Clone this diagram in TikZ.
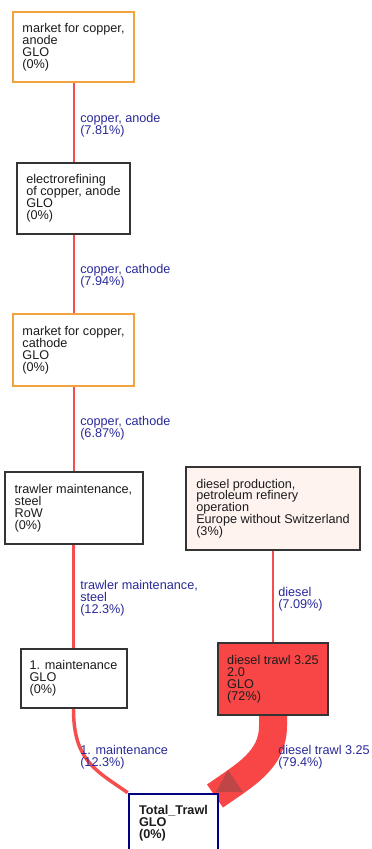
\documentclass[tikz,border=0pt]{standalone}
\usepackage{fontspec}
\setmainfont{Liberation Sans}

\definecolor{boxgray}{RGB}{52,52,52}
\definecolor{marketorange}{RGB}{242,163,62}
\definecolor{flowred}{RGB}{245,78,78}
\definecolor{hotred}{RGB}{248,70,70}
\definecolor{palepink}{RGB}{255,243,240}
\definecolor{labelblue}{RGB}{42,42,155}
\definecolor{rootnavy}{RGB}{0,0,128}
\definecolor{textdark}{RGB}{28,28,28}
\definecolor{tipred}{RGB}{190,70,70}

\pgfdeclarelayer{flows}
\pgfsetlayers{flows,main}

\tikzset{
  proc/.style={draw=boxgray, line width=1.5pt, fill=white, align=left,
    font=\fontsize{9.5}{8.9}\selectfont, text=textdark, inner sep=0pt},
  market/.style={proc, draw=marketorange},
  flow/.style={draw=flowred, line width=1.5pt},
  flowlabel/.style={text=labelblue, align=left, anchor=base west,
    font=\fontsize{9.5}{8.9}\selectfont, inner sep=0pt},
}

\begin{document}
\begin{tikzpicture}[x=0.75pt, y=-0.75pt]
\useasboundingbox (0,0) rectangle (371,849);

% process boxes
\node[market, minimum width=90.75pt, minimum height=52.5pt] (anodemkt) at (73.5,47)
  {market for copper,\\anode\\GLO\\(0\%)};
\node[proc, minimum width=84.75pt, minimum height=53.25pt] (refining) at (73.5,198.5)
  {electrorefining\\of copper, anode\\GLO\\(0\%)};
\node[market, minimum width=90.75pt, minimum height=54pt] (cathodemkt) at (73.5,350)
  {market for copper,\\cathode\\GLO\\(0\%)};
\node[proc, minimum width=103.5pt, minimum height=54pt] (trawlmaint) at (73.5,508)
  {trawler maintenance,\\steel\\RoW\\(0\%)};
\node[proc, fill=palepink, minimum width=130.5pt, minimum height=62.25pt] (dieselprod) at (273,508.5)
  {diesel production,\\petroleum refinery\\operation\\Europe without Switzerland\\(3\%)};
\node[proc, fill=hotred, minimum width=82.5pt, minimum height=54pt] (trawl) at (273,679)
  {diesel trawl 3.25\\2.0\\GLO\\(72\%)};
\node[proc, minimum width=79.5pt, minimum height=44.25pt] (maint) at (73.5,678.5)
  {1. maintenance\\GLO\\(0\%)};
\node[proc, draw=rootnavy, line width=2pt, font=\fontsize{9.5}{8.9}\selectfont\bfseries,
  minimum width=66.75pt, minimum height=44.25pt] (total) at (173.5,823.5)
  {Total\_Trawl\\GLO\\(0\%)};

% white sheet and flows, kept behind the boxes
\begin{pgfonlayer}{flows}
\fill[white] (0,0) rectangle (371,849);
\draw[flow] (anodemkt) -- (refining);
\draw[flow] (refining) -- (cathodemkt);
\draw[flow] (cathodemkt) -- (trawlmaint);
\draw[flow, line width=2.6pt] (trawlmaint) -- (maint);
\draw[flow] (dieselprod) -- (trawl);
\draw[flow, line width=2.6pt] (maint.south) .. controls (73.5,760) and (95,770) .. (total.north west);
\draw[flow, draw=hotred, line width=21pt] (trawl.south) -- ++(0,10)
  .. controls (273,760) and (245,775) .. (215,796);
\fill[tipred] (228,770) -- (243,792) -- (216,792) -- cycle;
\end{pgfonlayer}

% flow labels (anchored at the baseline of their last line)
\node[flowlabel] (l1) at (80,134) {copper, anode\\(7.81\%)};
\node[flowlabel] (l2) at (80,285) {copper, cathode\\(7.94\%)};
\node[flowlabel] (l3) at (80,437) {copper, cathode\\(6.87\%)};
\node[flowlabel] (l4) at (80,613) {trawler maintenance,\\steel\\(12.3\%)};
\node[flowlabel] (l5) at (278,608) {diesel\\(7.09\%)};
\node[flowlabel] (l6) at (80,766) {1. maintenance\\(12.3\%)};
\node[flowlabel] (l7) at (278,766) {diesel trawl 3.25\\(79.4\%)};
\end{tikzpicture}
\end{document}
